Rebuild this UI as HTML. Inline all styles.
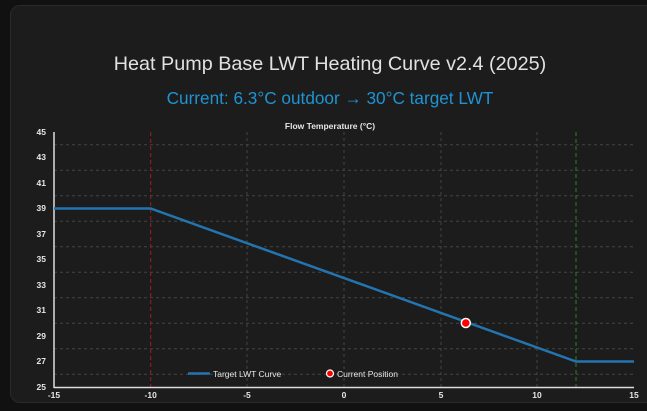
<!DOCTYPE html>
<html><head><style>
body{margin:0;width:647px;height:411px;background:#111;overflow:hidden;font-family:"Liberation Sans",sans-serif}
.card{position:absolute;left:10px;top:5px;width:650px;height:396px;background:#1c1c1c;border-radius:10px;border:1px solid #2a2a2a}
</style></head><body>
<div class="card"></div>
<svg width="647" height="411" style="position:absolute;left:0;top:0">
<text x="330" y="70" fill="#e1e1e1" font-size="19.8" text-anchor="middle">Heat Pump Base LWT Heating Curve v2.4 (2025)</text>
<text x="330" y="104" fill="#1f93d3" font-size="17.2" text-anchor="middle">Current: 6.3°C outdoor → 30°C target LWT</text>
<text x="330" y="129" fill="#e6e6e6" font-size="8.5" font-weight="bold" text-anchor="middle">Flow Temperature (°C)</text>
<g stroke="#444" stroke-dasharray="3,3" stroke-width="1">
<line x1="54" x2="634" y1="144.75" y2="144.75"/><line x1="54" x2="634" y1="170.25" y2="170.25"/>
<line x1="54" x2="634" y1="195.75" y2="195.75"/><line x1="54" x2="634" y1="221.25" y2="221.25"/>
<line x1="54" x2="634" y1="246.75" y2="246.75"/><line x1="54" x2="634" y1="272.25" y2="272.25"/>
<line x1="54" x2="634" y1="297.75" y2="297.75"/><line x1="54" x2="634" y1="323.25" y2="323.25"/>
<line x1="54" x2="634" y1="348.75" y2="348.75"/><line x1="54" x2="634" y1="374.25" y2="374.25"/>
<line x1="247" x2="247" y1="132" y2="387"/><line x1="344" x2="344" y1="132" y2="387"/>
<line x1="441" x2="441" y1="132" y2="387"/><line x1="537" x2="537" y1="132" y2="387"/>
</g>
<line x1="150.7" x2="150.7" y1="132" y2="387" stroke="#a01c1c" stroke-dasharray="4,3"/>
<line x1="576" x2="576" y1="132" y2="387" stroke="#1f8a1f" stroke-dasharray="4,3"/>
<line x1="54" x2="54" y1="132" y2="388" stroke="#ddd" stroke-width="1.5"/>
<line x1="54" x2="634" y1="387.5" y2="387.5" stroke="#ddd" stroke-width="1.5"/>
<polyline points="54,208.5 150.7,208.5 576,361.5 634,361.5" fill="none" stroke="#2474b0" stroke-width="2.5"/>
<circle cx="465.8" cy="323" r="4.5" fill="#f00" stroke="#fff" stroke-width="1.5"/>
<g fill="#e6e6e6" font-size="8.5" font-weight="bold" text-anchor="end">
<text x="46" y="135">45</text><text x="46" y="160">43</text><text x="46" y="186">41</text>
<text x="46" y="211">39</text><text x="46" y="237">37</text><text x="46" y="262">35</text>
<text x="46" y="288">33</text><text x="46" y="313">31</text><text x="46" y="339">29</text>
<text x="46" y="364">27</text><text x="46" y="390">25</text>
</g>
<g fill="#e6e6e6" font-size="8.5" font-weight="bold" text-anchor="middle">
<text x="54" y="398">-15</text><text x="150.7" y="398">-10</text><text x="247" y="398">-5</text>
<text x="344" y="398">0</text><text x="441" y="398">5</text><text x="537" y="398">10</text><text x="634" y="398">15</text>
</g>
<line x1="188" x2="210" y1="373.5" y2="373.5" stroke="#2474b0" stroke-width="2.5"/>
<text x="213" y="377" fill="#e6e6e6" font-size="8.5">Target LWT Curve</text>
<circle cx="330" cy="373.5" r="3.5" fill="#f00" stroke="#fff" stroke-width="1.2"/>
<text x="337" y="377" fill="#e6e6e6" font-size="8.5">Current Position</text>
</svg>
</body></html>
